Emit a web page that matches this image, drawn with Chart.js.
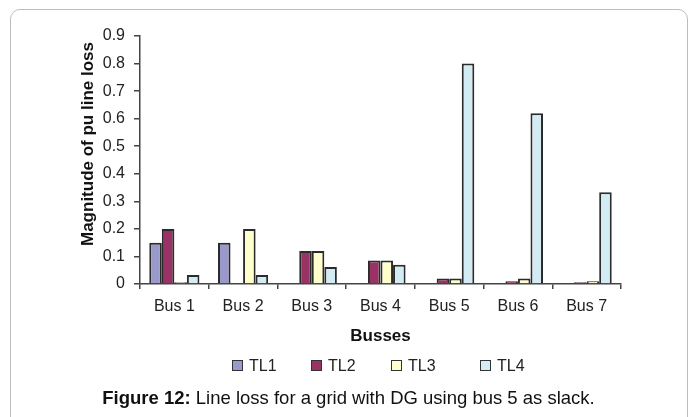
<!DOCTYPE html>
<html>
<head>
<meta charset="utf-8">
<script src="https://cdn.jsdelivr.net/npm/chart.js@4/dist/chart.umd.min.js"></script>
<style>
    html, body { margin: 0; padding: 0; background: #fff; overflow: hidden; }
    body { width: 696px; height: 417px; position: relative; font-family: 'Liberation Sans', Arial, sans-serif; color: #111; }
    #frame { position: absolute; left: 10px; top: 9px; width: 676px; height: 470px; border: 1.5px solid #bdbdbd; border-radius: 10px; }
    #chart { position: absolute; left: 0; top: 0; }
    #yTitle { position: absolute; left: 88px; top: 144px; transform: translate(-50%, -50%) rotate(-90deg); font-weight: bold; font-size: 17px; white-space: nowrap; }
    .legend-item { position: absolute; top: 358px; font-size: 16px; line-height: 16px; white-space: nowrap; color: #222; }
    .legend-item span { display: inline-block; width: 9px; height: 9px; border: 1px solid #333; margin-right: 6px; vertical-align: 0px; }
    #caption { position: absolute; left: 0; width: 697px; top: 387px; text-align: center; font-size: 18.5px; white-space: nowrap; }
</style>
</head>
<body>
<div id="frame"></div>
<canvas id="chart" width="696" height="417"></canvas>
<div id="yTitle">Magnitude of pu line loss</div>
<div id="legend"></div>
<div id="caption"><b>Figure 12:</b> Line loss for a grid with DG using bus 5 as slack.</div>
<script>
const busLabels = ['Bus 1', 'Bus 2', 'Bus 3', 'Bus 4', 'Bus 5', 'Bus 6', 'Bus 7'];
const seriesNames = ['TL1', 'TL2', 'TL3', 'TL4'];

const tl1 = [0.15, 0.15, 0, 0, 0, 0, 0];
const tl2 = [0.2, 0, 0.12, 0.085, 0.02, 0.01, 0.006];
const tl3 = [0.006, 0.2, 0.12, 0.085, 0.02, 0.02, 0.01];
const tl4 = [0.033, 0.033, 0.062, 0.07, 0.8, 0.62, 0.333];

const yMin = 0;
const yMax = 0.9;
const yStep = 0.1;

const colors = ['#9999cc', '#993366', '#ffffcc', '#d3ecf3'];
const values = [tl1, tl2, tl3, tl4];

// legend built in html so it can sit where the original one does
const legendLeft = [232, 311, 391, 480];
const legendEl = document.getElementById('legend');
seriesNames.forEach((name, i) => {
    const item = document.createElement('div');
    item.className = 'legend-item';
    item.style.left = legendLeft[i] + 'px';
    item.innerHTML = `<span style="background:${colors[i]}"></span>${name}`;
    legendEl.appendChild(item);
});

const font = { family: "'Liberation Sans', Arial, sans-serif" };

new Chart(document.getElementById('chart').getContext('2d'), {
    type: 'bar',
    data: {
        labels: busLabels,
        datasets: seriesNames.map((name, i) => ({
            label: name,
            data: values[i],
            backgroundColor: colors[i],
            borderColor: '#2b2b2b',
            borderWidth: 2,
            barPercentage: 1,
            categoryPercentage: 0.73
        }))
    },
    options: {
        responsive: false,
        devicePixelRatio: 1,
        animation: false,
        layout: {
            padding: { left: 0, top: 36, right: 75, bottom: 70.8 }
        },
        plugins: {
            legend: { display: false },
            tooltip: { enabled: false }
        },
        scales: {
            x: {
                grid: {
                    display: true,
                    drawOnChartArea: false,
                    drawTicks: true,
                    tickLength: 5,
                    tickColor: '#444',
                    lineWidth: 1.5
                },
                border: { color: '#444', width: 1.5 },
                ticks: {
                    color: '#222',
                    padding: 8,
                    font: { ...font, size: 16 }
                },
                title: {
                    display: true,
                    text: 'Busses',
                    color: '#111',
                    padding: 0,
                    font: { ...font, size: 17, weight: 'bold' }
                },
                afterFit: (scale) => { scale.height = 62.2; }
            },
            y: {
                min: yMin,
                max: yMax,
                grid: {
                    display: true,
                    drawOnChartArea: false,
                    drawTicks: true,
                    tickLength: 6,
                    tickColor: '#444',
                    lineWidth: 1.5
                },
                border: { color: '#444', width: 1.5 },
                ticks: {
                    stepSize: yStep,
                    color: '#222',
                    padding: 9,
                    font: { ...font, size: 16 },
                    callback: (v) => v === 0 ? '0' : v.toFixed(1)
                },
                afterFit: (scale) => { scale.width = 140; }
            }
        }
    }
});
</script>
</body>
</html>
